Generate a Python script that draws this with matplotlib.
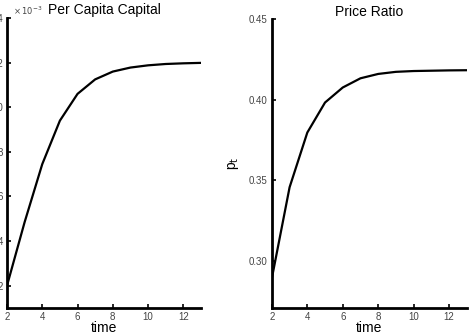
import numpy as np, matplotlib
matplotlib.use("Agg")
import matplotlib.pyplot as plt

plt.rcParams.update({"font.family": ["Liberation Sans", "DejaVu Sans"],
                     "axes.spines.top": False, "axes.spines.right": False})

time = [2, 3, 4, 5, 6, 7, 8, 9, 10, 11, 12, 13]
capital = [2.0, 4.85, 7.45, 9.4, 10.6, 11.25, 11.6, 11.78, 11.88, 11.94, 11.97, 11.99]  # x 1e-3
price = [0.2895, 0.3458, 0.3797, 0.3983, 0.4076, 0.4133, 0.4160, 0.4173,
         0.4178, 0.4180, 0.4182, 0.4183]
cap_ticks = [2, 4, 6, 8, 10, 12, 14]
price_ticks = [0.30, 0.35, 0.40, 0.45]
x_ticks = [2, 4, 6, 8, 10, 12]

fig = plt.figure(figsize=(4.72, 3.36), dpi=100)
ax1 = fig.add_axes([0.0148, 0.0833, 0.411, 0.863])
ax2 = fig.add_axes([0.576, 0.0833, 0.413, 0.860])

for ax in (ax1, ax2):
    ax.spines["left"].set_linewidth(2.0)
    ax.spines["bottom"].set_linewidth(2.0)
    ax.tick_params(direction="in", length=3, width=1.2, labelsize=7,
                   labelcolor="#444444", pad=3)
    ax.set_xticks(x_ticks)
    ax.set_xlim(2, 13)
    ax.set_xlabel("time", fontsize=10, labelpad=-1)

ax1.plot(time, capital, color="black", lw=1.6)
ax1.set_ylim(1, 14)
ax1.set_yticks(cap_ticks)
ax1.set_title("Per Capita Capital", fontsize=10, pad=3)
ax1.text(0.03, 1.005, r"$\times\,10^{-3}$", transform=ax1.transAxes, fontsize=6,
         color="#444444", va="bottom", ha="left")

ax2.plot(time, price, color="black", lw=1.6)
ax2.set_ylim(0.271, 0.45)
ax2.set_yticks(price_ticks)
ax2.set_yticklabels([f"{v:.2f}" for v in price_ticks])
ax2.set_title("Price Ratio", fontsize=10, pad=2)
ax2.set_ylabel(r"p$_{\rm t}$", fontsize=10, labelpad=6)

fig.savefig("out.png", dpi=100)
